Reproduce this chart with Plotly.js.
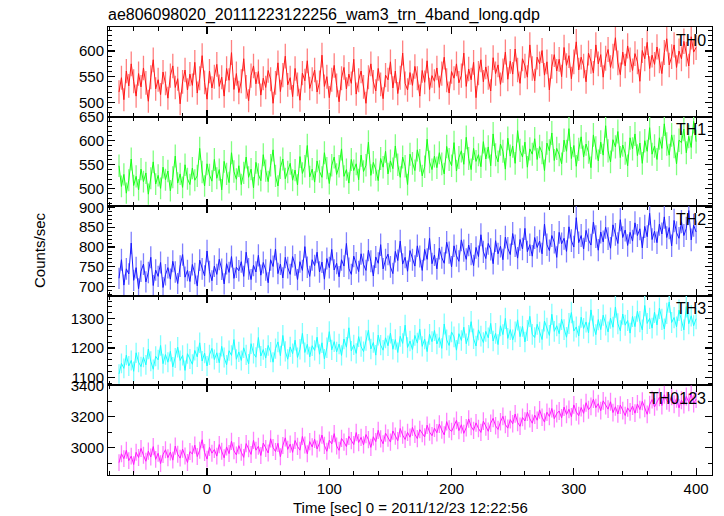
<!DOCTYPE html>
<html>
<head>
<meta charset="utf-8">
<script src="https://cdn.plot.ly/plotly-3.0.1.min.js"></script>
<style>html,body{margin:0;padding:0;background:#fff;}#chart{width:724px;height:516px;}</style>
</head>
<body>
<div id="chart"></div>
<script>
// Light curve bins: start time and bin width (sec)
const tStart = -72;
const binSize = 2;

const bandNames = ["TH0", "TH1", "TH2", "TH3", "TH0123"];

const th0 = [
520,548,505,561,532,575,541,512,556,530,
567,538,502,549,583,526,544,515,559,537,
508,552,571,529,546,497,540,563,524,555,
533,578,518,547,591,539,506,561,528,550,
574,531,549,512,566,543,597,525,556,519,
541,585,530,503,552,571,536,560,514,547,
529,562,545,498,538,577,521,553,590,534,
548,511,566,535,504,557,542,581,527,545,
563,520,539,592,531,550,509,544,572,533,
501,547,568,526,555,537,584,516,543,561,
530,498,549,575,540,522,566,535,507,553,
544,579,528,561,517,548,596,537,524,558,
533,570,547,512,562,539,581,525,552,541,
567,529,556,588,543,518,560,547,575,538,
552,596,531,565,544,578,509,557,583,540,
569,548,522,587,556,573,535,562,598,545,
580,555,604,563,537,585,571,549,612,566,
542,588,575,601,553,579,524,570,593,561,
584,550,607,572,591,546,579,618,563,588,
571,540,596,580,557,612,575,593,549,586,
603,568,590,626,577,554,598,571,610,583,
562,595,579,541,601,585,617,566,592,574,
608,581,556,597,624,573,589,612,568,600,
585,619,594,571,628,598,607
];

const th1 = [
548,505,530,491,518,562,507,526,498,541,
515,533,489,522,556,510,528,501,545,519,
537,496,524,568,512,531,503,550,521,509,
543,518,527,584,535,506,552,529,516,561,
522,540,498,557,531,513,575,536,520,548,
509,533,566,524,541,502,555,530,517,571,
538,515,549,581,527,506,544,562,521,535,
553,518,539,508,567,532,547,590,525,541,
514,558,536,524,575,543,511,549,566,530,
547,583,526,540,512,561,538,552,519,570,
536,549,597,528,555,540,517,563,545,578,
531,558,542,589,550,524,566,547,509,572,
553,538,581,559,527,546,603,556,540,568,
544,575,552,531,588,561,548,596,537,565,
579,551,607,563,540,584,557,571,546,598,
562,587,548,614,571,556,593,578,541,605,
568,589,553,621,580,566,597,545,583,572,
604,561,588,575,538,595,579,616,559,584,
571,552,601,578,625,563,590,547,582,608,
566,593,576,544,612,585,558,597,570,631,
579,556,602,587,619,565,591,574,548,606,
583,614,569,595,553,600,578,627,572,589,
561,606,584,635,593,570,612,588,552,601,
596,624,575,609,586,640,598
];

const th2 = [
721,768,704,745,732,810,716,748,695,739,
757,712,736,774,703,742,726,761,698,730,
748,719,764,737,708,752,781,724,741,713,
756,733,702,767,745,727,790,738,715,752,
731,769,744,707,758,736,776,721,749,740,
763,726,787,745,718,754,737,779,729,761,
742,710,768,751,795,733,757,722,774,748,
731,776,755,718,763,741,801,749,726,768,
753,787,737,762,719,771,748,794,742,759,
725,768,752,809,746,731,777,760,738,783,
756,741,792,764,727,775,759,806,745,768,
782,750,733,789,766,815,757,774,739,791,
768,752,803,776,741,794,769,822,758,780,
745,797,773,759,812,786,750,803,778,764,
818,791,769,805,782,753,799,776,831,788,
771,809,794,758,816,783,802,768,825,797,
781,834,803,772,819,795,847,788,806,777,
824,799,815,783,858,806,791,829,812,774,
837,808,822,789,851,816,800,874,811,829,
795,842,818,805,863,826,792,838,813,850,
821,797,856,832,809,869,824,843,804,837,
815,861,829,846,798,852,826,885,819,840,
811,858,833,876,824,849,803,867,836,822,
864,829,847,892,818,855,838
];

const th3 = [
1112,1148,1131,1176,1139,1158,1121,1184,1152,1137,
1169,1143,1197,1155,1128,1172,1160,1209,1147,1178,
1152,1189,1136,1166,1203,1158,1175,1124,1181,1163,
1145,1192,1170,1218,1156,1183,1139,1177,1199,1161,
1184,1150,1206,1168,1143,1191,1175,1229,1162,1187,
1158,1201,1177,1146,1215,1182,1169,1236,1173,1195,
1166,1209,1186,1152,1198,1221,1174,1243,1189,1162,
1204,1181,1227,1168,1196,1250,1185,1213,1170,1208,
1192,1237,1179,1218,1163,1201,1256,1194,1222,1187,
1214,1175,1231,1203,1269,1190,1211,1182,1239,1205,
1188,1226,1261,1197,1219,1176,1244,1210,1193,1235,
1208,1251,1196,1229,1185,1240,1216,1278,1202,1224,
1195,1243,1217,1264,1206,1231,1188,1247,1222,1260,
1214,1236,1199,1282,1228,1209,1255,1238,1193,1249,
1226,1271,1215,1243,1290,1232,1207,1262,1241,1219,
1257,1235,1284,1224,1250,1212,1276,1246,1301,1233,
1263,1228,1255,1296,1239,1274,1221,1260,1308,1247,
1236,1281,1254,1229,1292,1268,1243,1315,1257,1276,
1249,1298,1263,1237,1284,1321,1258,1272,1241,1305,
1267,1289,1252,1330,1275,1246,1297,1263,1312,1279,
1255,1302,1271,1340,1283,1259,1316,1278,1294,1251,
1308,1273,1326,1290,1262,1345,1284,1301,1268,1322,
1279,1336,1298,1265,1318,1357,1287,1304,1272,1329,
1294,1262,1341,1283,1310,1276,1300
];

const th0123 = [
2905,2962,2931,2984,2918,2947,2893,2971,2938,2996,
2952,2914,2979,2941,3008,2926,2965,2899,2957,2988,
2937,2973,2921,3011,2959,2934,2992,2948,2906,2976,
2961,3017,2944,2985,3052,2970,2928,3003,2966,2989,
2947,3021,2978,2936,3006,2963,3042,2981,2955,3014,
2972,2939,3027,2994,2958,3048,2985,3010,2951,3031,
2996,2967,3058,3002,2976,3029,2943,3015,3064,2990,
3024,2971,3047,3009,2985,3073,3018,2962,3040,3006,
3055,2993,3031,3082,3016,2978,3049,3025,3091,3012,
2984,3060,3037,3008,3074,3046,3021,3098,3034,3067,
3019,3085,3052,3003,3071,3040,3112,3058,3026,3094,
3063,3037,3108,3075,3046,3124,3081,3054,3099,3068,
3131,3087,3059,3117,3092,3070,3145,3101,3078,3126,
3097,3152,3114,3083,3168,3121,3105,3139,3176,3110,
3148,3093,3129,3185,3137,3112,3160,3124,3099,3171,
3133,3106,3158,3189,3141,3118,3167,3202,3149,3126,
3181,3154,3217,3163,3138,3195,3172,3229,3186,3158,
3210,3177,3243,3196,3165,3228,3201,3252,3187,3219,
3236,3192,3261,3214,3247,3199,3275,3230,3206,3258,
3221,3289,3244,3266,3312,3257,3283,3238,3301,3270,
3248,3295,3226,3263,3217,3274,3239,3207,3256,3231,
3268,3222,3281,3245,3298,3253,3215,3276,3309,3262,
3297,3324,3271,3340,3302,3288,3331,3279,3315,3256,
3305,3278,3329,3291,3346,3284,3312
];

const xTickVals = [0, 100, 200, 300, 400];
const xTickText = ["0", "100", "200", "300", "400"];

const series = [th0, th1, th2, th3, th0123];
const lineColors = ["#ff1a1a", "#1aff1a", "#1a1aff", "#1affff", "#ff1aff"];
const errColors = ["#ff8080", "#80ff80", "#8080ff", "#80ffff", "#ff80ff"];
const yRanges = [[472, 647], [464, 650], [677, 903], [1073, 1378], [2826, 3400]];
const yDtick = [50, 50, 50, 100, 200];
const yMinor = [10, 10, 10, 20, 100];

const font = "Liberation Sans, Arial, Helvetica, sans-serif";
const traces = [];
const layout = {
  width: 724, height: 516,
  margin: {l: 108, r: 12, t: 27, b: 41},
  paper_bgcolor: "#fff", plot_bgcolor: "#fff",
  showlegend: false,
  font: {family: font, size: 15, color: "#000"},
  title: {text: "ae806098020_20111223122256_wam3_trn_4band_long.qdp",
          xref: "paper", x: 0, xanchor: "left",
          yref: "container", y: 1 - 14/516, yanchor: "middle",
          font: {family: font, size: 16, color: "#000"}},
  annotations: []
};

const n = 5;
for (let k = 0; k < n; k++) {
  const vals = series[k];
  const t = vals.map((_, i) => tStart + i * binSize);
  const sfx = k === 0 ? "" : String(k + 1);
  traces.push({
    type: "scatter", mode: "lines",
    x: t, y: vals,
    xaxis: "x" + sfx, yaxis: "y" + sfx,
    line: {color: lineColors[k], width: 1},
    error_y: {type: "sqrt", visible: true, color: errColors[k], thickness: 1.3, width: 0},
    hoverinfo: "skip"
  });
  const top = 1 - k / n, bot = 1 - (k + 1) / n;
  const isBottom = k === n - 1;
  layout["xaxis" + sfx] = {
    domain: [0, 1], anchor: "y" + sfx,
    range: [-81, 413],
    tickvals: xTickVals, ticktext: xTickText,
    showticklabels: isBottom,
    ticks: "inside", ticklen: 7, tickwidth: 1.2, tickcolor: "#000",
    minor: {dtick: 20, tick0: 0, ticks: "inside", ticklen: 4, tickcolor: "#000", tickwidth: 1},
    showgrid: false, zeroline: false,
    showline: true, linecolor: "#000", linewidth: 1, mirror: "allticks",
    tickfont: {family: font, size: 15, color: "#000"}
  };
  if (k > 0) layout["xaxis" + sfx].matches = "x";
  layout["yaxis" + sfx] = {
    domain: [bot, top], anchor: "x" + sfx,
    range: yRanges[k], dtick: yDtick[k], tick0: 0,
    ticks: "inside", ticklen: 7, tickwidth: 1.2, tickcolor: "#000",
    minor: {dtick: yMinor[k], tick0: 0, ticks: "inside", ticklen: 4, tickcolor: "#000", tickwidth: 1},
    showgrid: false, zeroline: false,
    showline: true, linecolor: "#000", linewidth: 1, mirror: "allticks",
    tickfont: {family: font, size: 15, color: "#000"}
  };
  layout.annotations.push({
    text: bandNames[k], xref: "paper", yref: "paper",
    x: 0.993, y: top - 0.006, xanchor: "right", yanchor: "top",
    showarrow: false, font: {family: font, size: 16, color: "#000"}
  });
}

layout.annotations.push({
  text: "Counts/sec", xref: "paper", yref: "paper",
  x: (40 - 108) / 604, y: (475 - 250) / 448, xanchor: "center", yanchor: "middle",
  textangle: -90, showarrow: false, font: {family: font, size: 15, color: "#000"}
});
layout.annotations.push({
  text: "Time [sec] 0 = 2011/12/23 12:22:56", xref: "paper", yref: "paper",
  x: 0.5, y: (475 - 507) / 448, xanchor: "center", yanchor: "middle",
  showarrow: false, font: {family: font, size: 15, color: "#000"}
});

Plotly.newPlot("chart", traces, layout, {displayModeBar: false, staticPlot: true});
</script>
</body>
</html>
